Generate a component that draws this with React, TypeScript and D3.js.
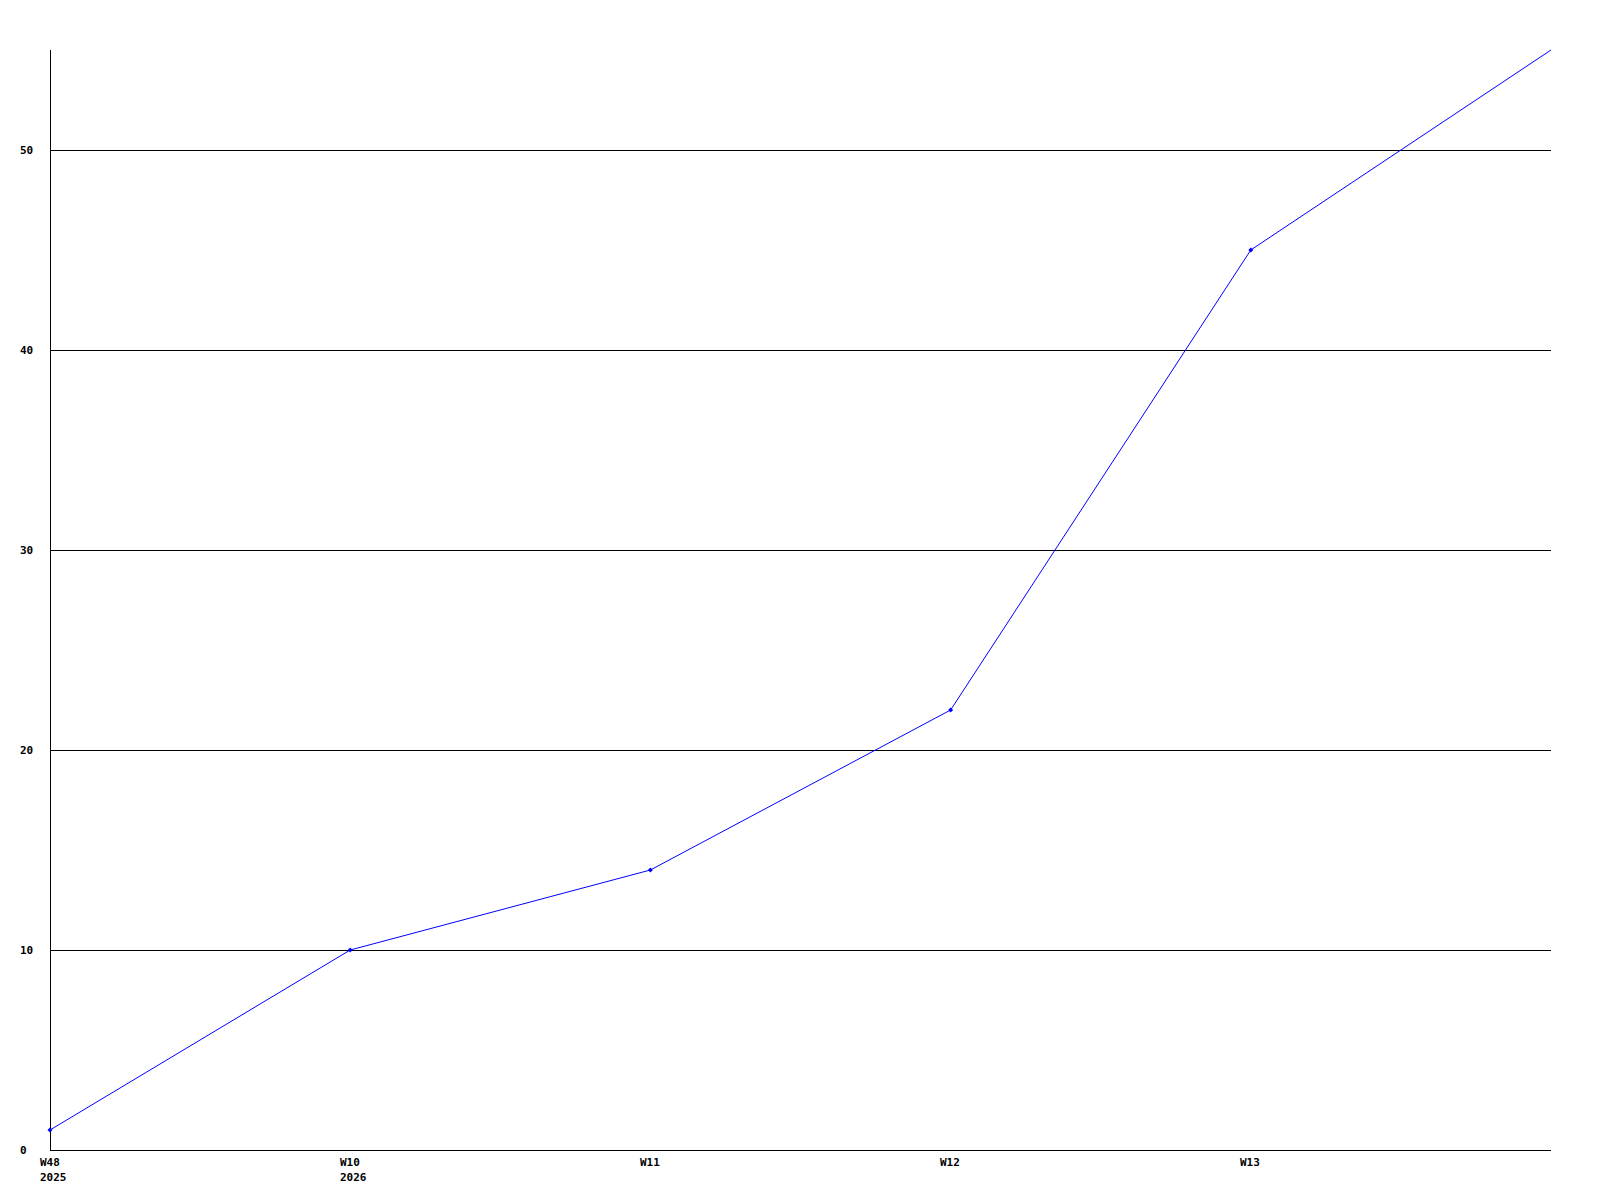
import React from "react";
import * as d3 from "d3";

const categories = ["W48", "W10", "W11", "W12", "W13", "W14"];
const subLabels = ["2025", "2026", "", "", "", ""];
const showLabel = [true, true, true, true, true, false];
const values = [1, 10, 14, 22, 45, 55];
const yTicks = [0, 10, 20, 30, 40, 50];

export default function App() {
  const W = 1600, H = 1200;
  const left = 50, right = 1551, top = 50, bottom = 1150;
  const x = d3.scalePoint<string>().domain(categories).range([left, right]);
  const y = d3.scaleLinear().domain([0, 55]).range([bottom, top]);
  const line = d3.line<number>().x((_, i) => x(categories[i])!).y((d) => y(d));
  const font = "'DejaVu Sans Mono', monospace";
  return (
    <svg width={W} height={H} style={{ position: "absolute", left: 0, top: 0, background: "#fff" }}>
      <rect x={0} y={0} width={W} height={H} fill="#fff" />
      {yTicks.filter((t) => t > 0).map((t) => (
        <line key={t} x1={left} x2={right} y1={Math.round(y(t)) + 0.5} y2={Math.round(y(t)) + 0.5} stroke="#000" strokeWidth={1} />
      ))}
      <line x1={left + 0.5} x2={left + 0.5} y1={top} y2={bottom} stroke="#000" />
      <line x1={left} x2={right} y1={bottom + 0.5} y2={bottom + 0.5} stroke="#000" />
      {yTicks.map((t) => (
        <text key={t} x={20} y={y(t)} dy="0.35em" fontFamily={font} fontWeight="bold" fontSize={11} fill="#000">
          {t}
        </text>
      ))}
      {categories.map((c, i) =>
        showLabel[i] ? (
          <g key={c}>
            <text x={left + i * 300 - 10} y={bottom + 12} dy="0.35em" fontFamily={font} fontWeight="bold" fontSize={11} fill="#000">
              {c}
            </text>
            {subLabels[i] && (
              <text x={left + i * 300 - 10} y={bottom + 27} dy="0.35em" fontFamily={font} fontWeight="bold" fontSize={11} fill="#000">
                {subLabels[i]}
              </text>
            )}
          </g>
        ) : null
      )}
      <path d={line(values)!} fill="none" stroke="#0000ff" strokeWidth={1} />
      {values.slice(0, 5).map((v, i) => {
        const cx = x(categories[i])!, cy = y(v);
        return (
          <path key={i} d={`M${cx},${cy - 2.5}L${cx + 2.5},${cy}L${cx},${cy + 2.5}L${cx - 2.5},${cy}Z`} fill="#0000ff" />
        );
      })}
    </svg>
  );
}
